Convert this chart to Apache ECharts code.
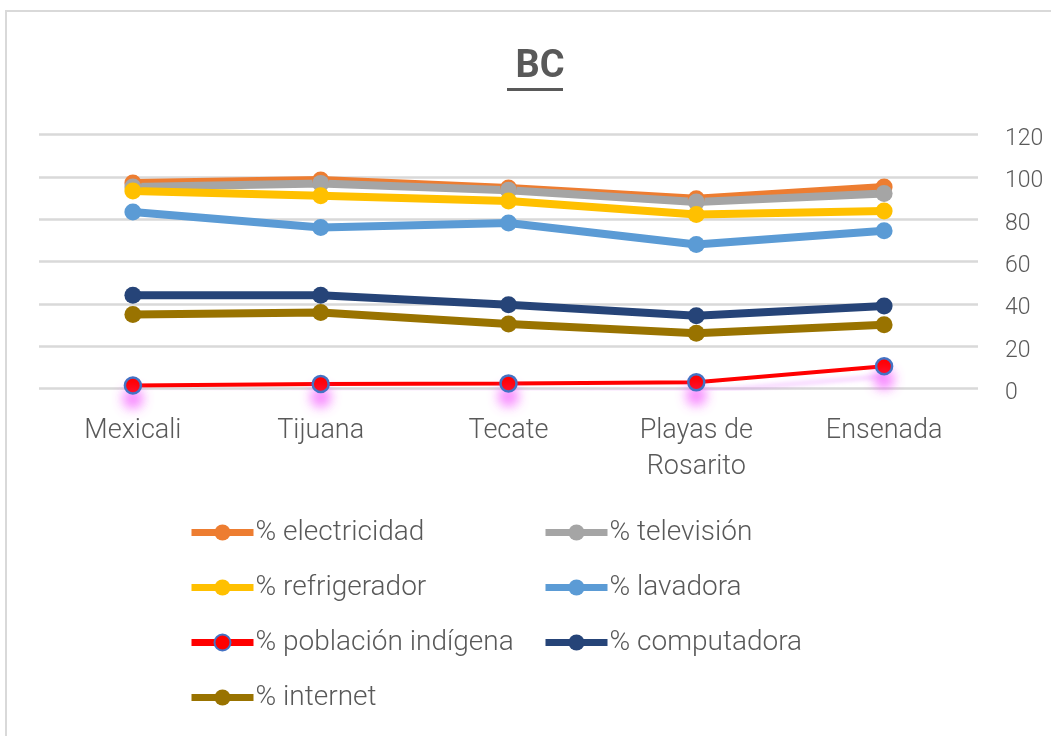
<!DOCTYPE html>
<html>
<head>
<meta charset="utf-8">
<script src="https://cdn.jsdelivr.net/npm/echarts@6/dist/echarts.min.js"></script>
<style>
  html, body { margin: 0; padding: 0; background: #ffffff; }
  #chart { width: 1051px; height: 736px; }
</style>
</head>
<body>
<div id="chart"></div>
<script>
// Municipios de Baja California
const municipios = ['Mexicali', 'Tijuana', 'Tecate', 'Playas de\nRosarito', 'Ensenada'];

// Porcentaje de viviendas / población por indicador
const electricidad = [97.2, 98.6, 94.8, 89.7, 95.3];
const television   = [95.3, 97.0, 93.8, 88.2, 92.2];
const refrigerador = [93.4, 91.2, 88.7, 82.3, 84.0];
const lavadora     = [83.5, 76.2, 78.3, 68.1, 74.6];
const indigena     = [1.5, 2.2, 2.5, 3.0, 10.6];
const computadora  = [44.1, 44.1, 39.7, 34.5, 39.1];
const internet     = [35.1, 36.0, 30.6, 26.2, 30.2];

const yTicks = { min: 0, max: 120, interval: 20 };

const FONT = 'Roboto';
const TXT = '#595959';

function serie(name, data, color) {
  return {
    name: name,
    type: 'line',
    data: data,
    symbol: 'circle',
    symbolSize: 17,
    lineStyle: { color: color, width: 8 },
    itemStyle: { color: color },
    emphasis: { disabled: true }
  };
}

const legendBase = {
  orient: 'vertical', top: 517, itemGap: 24, padding: 0,
  itemWidth: 62, itemHeight: 20,
  lineStyle: { width: 7 },
  textStyle: { fontFamily: FONT, fontSize: 28, fontWeight: 300, color: TXT, lineHeight: 31,
    padding: [0, 0, 0, -3] }
};

const chart = echarts.init(document.getElementById('chart'), null, { renderer: 'canvas' });

chart.setOption({
  backgroundColor: '#ffffff',
  animation: false,
  title: {
    text: 'BC',
    left: 535,
    top: 43,
    textAlign: 'center',
    textStyle: { fontFamily: FONT, fontSize: 38, fontWeight: 'bold', color: TXT }
  },
  graphic: [
    { type: 'rect', shape: { x: 6, y: 11, width: 1200, height: 900 },
      style: { fill: 'none', stroke: '#d9d9d9', lineWidth: 2 }, silent: true },
    { type: 'rect', shape: { x: 507, y: 88, width: 56, height: 3 },
      style: { fill: TXT }, silent: true }
  ],
  grid: { left: 39, right: 73, top: 134.7, bottom: 347.3, containLabel: false },
  legend: [
    Object.assign({}, legendBase, {
      left: 188,
      data: ['% electricidad', '% refrigerador', '% población indígena', '% internet']
    }),
    Object.assign({}, legendBase, {
      left: 542,
      data: ['% televisión', '% lavadora', '% computadora']
    })
  ],
  xAxis: {
    type: 'category',
    data: municipios,
    boundaryGap: true,
    axisLine: { show: false },
    axisTick: { show: false },
    axisLabel: { fontFamily: FONT, fontSize: 27, fontWeight: 300, color: TXT, margin: 25, lineHeight: 36 }
  },
  yAxis: {
    type: 'value',
    position: 'right',
    min: yTicks.min, max: yTicks.max, interval: yTicks.interval,
    axisLine: { show: false },
    axisTick: { show: false },
    axisLabel: {
      margin: 27, align: 'left',
      formatter: '{t|{value}}',
      rich: { t: { fontFamily: FONT, fontSize: 23, fontWeight: 300, color: TXT, padding: [9, 0, 0, 0] } }
    },
    splitLine: { lineStyle: { color: '#d9d9d9', width: 2.5 } }
  },
  series: [
    serie('% electricidad', electricidad, '#ED7D31'),
    serie('% televisión', television, '#A5A5A5'),
    serie('% refrigerador', refrigerador, '#FFC000'),
    serie('% lavadora', lavadora, '#5B9BD5'),
    {
      name: '% población indígena',
      type: 'line',
      data: indigena,
      symbol: 'circle',
      symbolSize: 16,
      z: 5,
      lineStyle: { color: '#FF0000', width: 4,
        shadowColor: 'rgba(230,120,255,0.35)', shadowBlur: 4, shadowOffsetY: 10 },
      itemStyle: { color: '#FF0000', borderColor: '#4472C4', borderWidth: 2.5,
        shadowColor: 'rgba(245,90,255,0.8)', shadowBlur: 12, shadowOffsetY: 13 },
      emphasis: { disabled: true }
    },
    serie('% computadora', computadora, '#264478'),
    serie('% internet', internet, '#997300')
  ]
});
</script>
</body>
</html>
